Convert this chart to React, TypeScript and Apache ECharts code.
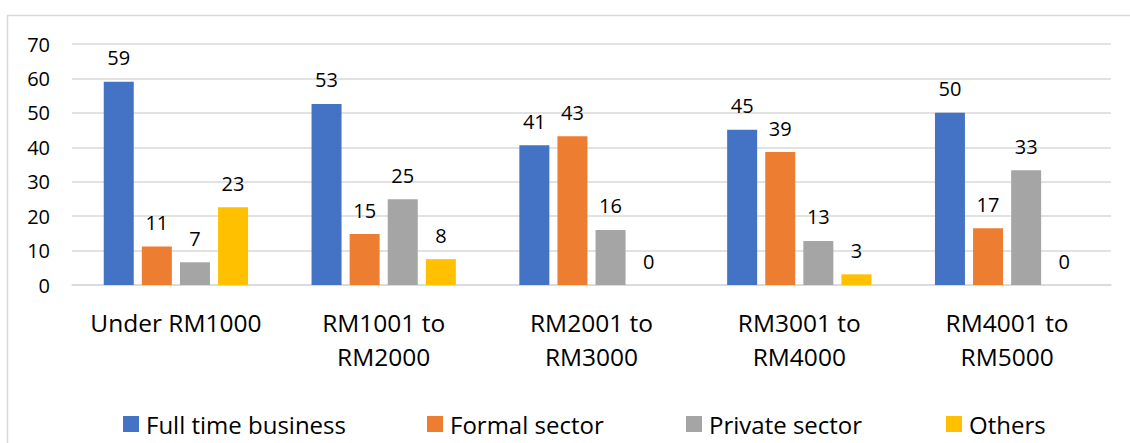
import React, { useEffect, useRef } from "react";
import * as echarts from "echarts";

const categories = [
  "Under RM1000",
  "RM1001 to\nRM2000",
  "RM2001 to\nRM3000",
  "RM3001 to\nRM4000",
  "RM4001 to\nRM5000",
];
const seriesNames = ["Full time business", "Formal sector", "Private sector", "Others"];
const fullTime = [59, 52.6, 40.6, 45.1, 50];
const formal = [11.2, 14.8, 43.2, 38.6, 16.5];
const privateSector = [6.6, 24.9, 16, 12.8, 33.3];
const others = [22.6, 7.5, 0, 3.1, 0];
const colors = ["#4472C4", "#ED7D31", "#A5A5A5", "#FFC000"];
const yTicks = { min: 0, max: 70, interval: 10 };
const legendLefts = [123, 427, 686, 946];

const FONT = "Open Sans";

export default function App() {
  const ref = useRef<HTMLDivElement>(null);
  useEffect(() => {
    if (!ref.current) return;
    const chart = echarts.init(ref.current, null, { renderer: "svg" });
    const data = [fullTime, formal, privateSector, others];
    chart.setOption({
      animation: false,
      backgroundColor: "#ffffff",
      textStyle: { fontFamily: FONT },
      graphic: [
        {
          type: "rect",
          shape: { x: 7.5, y: 15.5, width: 1300, height: 700 },
          style: { fill: "none", stroke: "#d9d9d9", lineWidth: 1.5 },
          silent: true,
        },
      ],
      grid: { left: 72, right: 19, top: 44, bottom: 158 },
      legend: seriesNames.map((name, i) => ({
        left: legendLefts[i],
        top: 411,
        padding: 0,
        itemWidth: 16,
        itemHeight: 16,
        icon: "rect",
        textStyle: {
          fontFamily: FONT,
          fontSize: 24,
          lineHeight: 26,
          color: "#000",
          padding: [0, 0, 0, 2],
        },
        data: [name],
      })),
      xAxis: {
        type: "category",
        data: categories,
        axisLine: { show: true, lineStyle: { color: "#d9d9d9", width: 1.5 } },
        axisTick: { show: false },
        axisLabel: {
          fontFamily: FONT,
          fontSize: 24.5,
          color: "#000",
          lineHeight: 34,
          margin: 20,
          interval: 0,
        },
      },
      yAxis: {
        type: "value",
        min: yTicks.min,
        max: yTicks.max,
        interval: yTicks.interval,
        axisLine: { show: false },
        axisTick: { show: false },
        splitLine: { lineStyle: { color: "#d9d9d9", width: 1.5 } },
        axisLabel: { fontFamily: FONT, fontSize: 20, color: "#000", margin: 22 },
      },
      series: seriesNames.map((name, i) => ({
        name,
        type: "bar",
        data: data[i],
        barWidth: 30,
        barGap: "27%",
        itemStyle: { color: colors[i] },
        label: {
          show: true,
          position: "top",
          distance: 14,
          fontFamily: FONT,
          fontSize: 20,
          color: "#000",
          formatter: (p: any) => String(Math.round(p.value)),
        },
      })),
    });
    return () => chart.dispose();
  }, []);
  return (
    <div
      ref={ref}
      style={{ position: "absolute", left: 0, top: 0, width: 1130, height: 443 }}
    />
  );
}
